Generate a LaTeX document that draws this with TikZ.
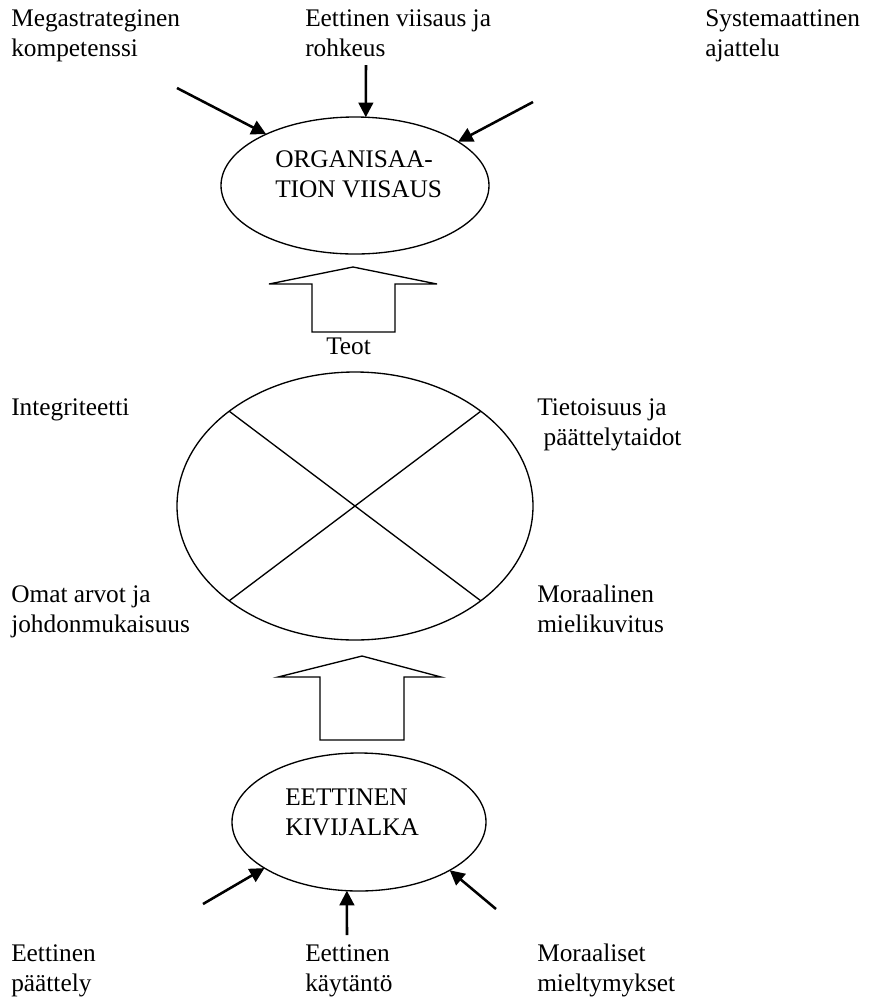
\documentclass[tikz,border=0pt]{standalone}
\usepackage{fontspec}
\setmainfont{Liberation Serif}
\usetikzlibrary{shapes.geometric,arrows.meta}
\begin{document}
\begin{tikzpicture}[x=0.75pt,y=-0.75pt,
  lbl/.style={anchor=base west,inner sep=0pt,align=left,font=\fontsize{19}{22.5}\selectfont},
  oval/.style={ellipse,draw,line width=1pt,inner sep=0pt,outer sep=0pt},
  feed/.style={line width=1.9pt,-{Triangle[length=11pt,width=11pt]}},
  thinline/.style={line width=1pt},
  block/.style={draw,line width=1pt,line join=miter}]
\useasboundingbox (0,0) rectangle (873,1001);

% the three ovals
\node[oval,minimum width=201pt,minimum height=102.75pt] (top) at (355,185.5) {};
\node[oval,minimum width=267pt,minimum height=201pt] (mid) at (355,506) {};
\node[oval,minimum width=190.5pt,minimum height=103.5pt] (bot) at (359,822) {};

% texts inside the ovals (anchored at the baseline of the last line)
\node[lbl] (topname) at (275,197) {ORGANISAA-\\TION VIISAUS};
\node[lbl] (botname) at (285,835) {EETTINEN\\KIVIJALKA};

% cross dividing the middle oval
\draw[thinline] (mid.143) -- (mid.323);
\draw[thinline] (mid.37) -- (mid.217);

% block arrows
\draw[block] (353,267) -- (437,284) -- (395,284) -- (395,332) -- (312,332) -- (312,284) -- (269,284) -- cycle;
\draw[block] (362,656) -- (441,677) -- (404,677) -- (404,740) -- (320,740) -- (320,677) -- (278,677) -- cycle;
\node[lbl] (teot) at (326,354) {Teot};

% labels
\node[lbl] (mega) at (11,56.5) {Megastrateginen\\kompetenssi};
\node[lbl] (viis) at (305,56.5) {Eettinen viisaus ja\\rohkeus};
\node[lbl] (syst) at (705,56.5) {Systemaattinen\\ajattelu};
\node[lbl] (integ) at (11,415) {Integriteetti};
\node[lbl] (tieto) at (537,445) {Tietoisuus ja\\\hspace*{0.25em}päättelytaidot};
\node[lbl] (omat) at (11,632) {Omat arvot ja\\johdonmukaisuus};
\node[lbl] (moral) at (537,632) {Moraalinen\\mielikuvitus};
\node[lbl] (paat) at (11,991.5) {Eettinen\\päättely};
\node[lbl] (kayt) at (305,991.5) {Eettinen\\käytäntö};
\node[lbl] (mielt) at (537,991.5) {Moraaliset\\mieltymykset};

% arrow tails
\coordinate (a1) at (177,88);
\coordinate (a2) at (366,65);
\coordinate (a3) at (533,102);
\coordinate (b1) at (203,904);
\coordinate (b2) at (347,935);
\coordinate (b3) at (496,909);

% incoming arrows
\draw[feed] (a1) -- (top.150);
\draw[feed] (a2) -- (top.81);
\draw[feed] (a3) -- (top.23);
\draw[feed] (b1) -- (bot.206);
\draw[feed] (b2) -- (bot.260);
\draw[feed] (b3) -- (bot.332);
\end{tikzpicture}
\end{document}
